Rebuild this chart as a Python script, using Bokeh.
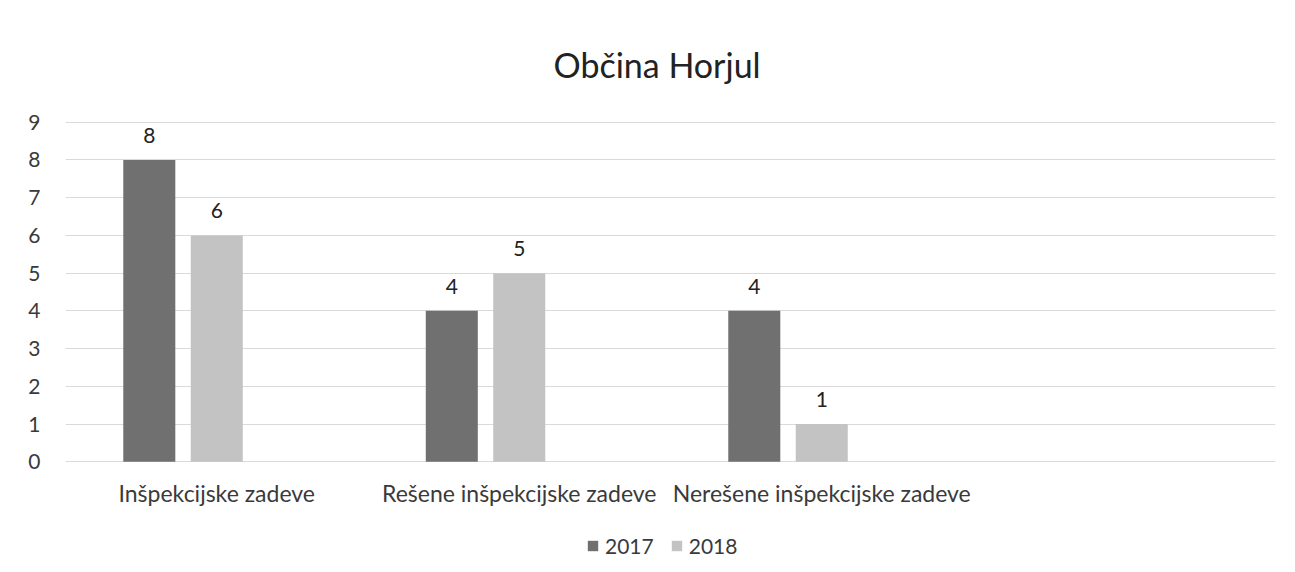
from bokeh.plotting import figure
from bokeh.layouts import column
from bokeh.models import (ColumnDataSource, Range1d, FixedTicker, LabelSet, Title,
                          Legend, LegendItem)
from bokeh.transform import dodge
from bokeh.embed import file_html
from bokeh.resources import INLINE
from bokeh.core.properties import value

title_text = "Občina Horjul"
categories = ["Inšpekcijske zadeve", "Rešene inšpekcijske zadeve", "Nerešene inšpekcijske zadeve"]
series_names = ["2017", "2018"]
values_2017 = [8, 4, 4]
values_2018 = [6, 5, 1]
y_ticks = [0, 1, 2, 3, 4, 5, 6, 7, 8, 9]

FONT = "Lato"
TXT = "#3a3a3a"
C17 = "#707070"
C18 = "#c3c3c3"

n_slots = len(categories) + 1  # Excel chart leaves an empty fourth slot
xs = [i + 0.5 for i in range(len(categories))]

src = ColumnDataSource(dict(
    x=xs,
    v17=values_2017,
    v18=values_2018,
    t17=[str(v) for v in values_2017],
    t18=[str(v) for v in values_2018],
))

p = figure(width=1295, height=520, output_backend="svg", toolbar_location=None,
           x_range=Range1d(0, n_slots), y_range=Range1d(-0.02, 9.02),
           min_border_left=65, min_border_right=20, min_border_top=121,
           min_border_bottom=58)
p.outline_line_color = None
p.background_fill_color = "white"
p.border_fill_color = "white"

bw = 0.172
off17 = -0.223
off18 = 0.0
p.vbar(x=dodge("x", off17), top="v17", width=bw, source=src,
       fill_color=C17, line_color=None)
p.vbar(x=dodge("x", off18), top="v18", width=bw, source=src,
       fill_color=C18, line_color=None)

for col, off in (("17", off17), ("18", off18)):
    p.add_layout(LabelSet(x=dodge("x", off), y="v" + col, text="t" + col, source=src,
                          text_align="center", text_baseline="alphabetic", y_offset=17,
                          text_font=value(FONT), text_font_size="21px", text_color="#222222"))

# axes
p.xaxis.ticker = FixedTicker(ticks=xs)
p.xaxis.major_label_overrides = {x: c for x, c in zip(xs, categories)}
p.yaxis.ticker = FixedTicker(ticks=y_ticks)
for ax in (p.xaxis[0], p.yaxis[0]):
    ax.axis_line_color = None
    ax.major_tick_line_color = None
    ax.minor_tick_line_color = None
    ax.major_tick_out = 0
    ax.major_tick_in = 0
    ax.major_label_text_font = FONT
    ax.major_label_text_color = TXT
p.yaxis.major_label_text_font_size = "21px"
p.xaxis.major_label_text_font_size = "23px"
p.yaxis.major_label_standoff = 25
p.xaxis.major_label_standoff = 16

p.xgrid.grid_line_color = None
p.ygrid.ticker = FixedTicker(ticks=y_ticks)
p.ygrid.grid_line_color = "#dadada"
p.ygrid.grid_line_width = 1

# title
p.add_layout(Title(text=title_text, align="left", text_font=FONT,
                   text_font_size="34px", text_font_style="normal",
                   text_color="#222222", standoff=73, offset=488), "above")

# legend strip below the chart
lf = figure(width=1295, height=52, output_backend="svg", toolbar_location=None,
            x_range=Range1d(100, 101), y_range=Range1d(100, 101),
            x_axis_type=None, y_axis_type=None,
            min_border=0, min_border_left=0, min_border_right=0,
            min_border_top=0, min_border_bottom=0)
lf.outline_line_color = None
lf.xgrid.grid_line_color = None
lf.ygrid.grid_line_color = None
lf.background_fill_color = "white"
lf.border_fill_color = "white"
lr17 = lf.vbar(x="x", top="v17", width=bw, source=src, fill_color=C17, line_color=None)
lr18 = lf.vbar(x="x", top="v18", width=bw, source=src, fill_color=C18, line_color=None)

legend = Legend(items=[LegendItem(label=series_names[0], renderers=[lr17]),
                       LegendItem(label=series_names[1], renderers=[lr18])],
                orientation="horizontal", location=(521, 14),
                glyph_width=13, glyph_height=13, label_text_font=FONT,
                label_text_font_size="21px", label_text_color=TXT,
                label_standoff=6, spacing=16, padding=0, margin=0,
                label_height=20, border_line_color=None, background_fill_alpha=0)
lf.add_layout(legend)

layout = column(p, lf, spacing=0)
open("out.html", "w").write(file_html(layout, INLINE))
